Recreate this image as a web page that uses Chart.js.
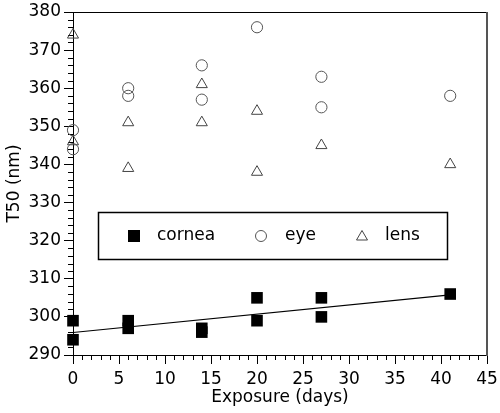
<!DOCTYPE html>
<html>
<head>
<meta charset="utf-8">
<script src="https://cdn.jsdelivr.net/npm/chart.js@4/dist/chart.umd.min.js"></script>
<style>
  html, body { margin: 0; padding: 0; background: #fff; }
  #wrap { width: 500px; height: 413px; }
</style>
</head>
<body>
<div id="wrap"><canvas id="c"></canvas></div>
<script>
// values
var corneaX = [0, 0, 6, 6, 14, 14, 20, 20, 27, 27, 41];
var corneaY = [299, 294, 299, 297, 297, 296, 305, 299, 305, 300, 306];
var eyeX = [0, 0, 6, 6, 14, 14, 20, 27, 27, 41];
var eyeY = [349, 344, 360, 358, 366, 357, 376, 363, 355, 358];
var lensX = [0, 0, 6, 6, 14, 14, 20, 20, 27, 41];
var lensY = [374, 346, 351, 339, 361, 351, 354, 338, 345, 340];
// fitted line through cornea points (end points)
var fitX = [0, 41];
var fitY = [295.9, 305.8];
var legendLabels = ['cornea', 'eye', 'lens'];

var FONT = '"DejaVu Sans", sans-serif';

function pts(xs, ys) {
  return xs.map(function(x, i) { return {x: x, y: ys[i]}; });
}

function seg(ctx, x1, y1, x2, y2) {
  ctx.beginPath(); ctx.moveTo(x1, y1); ctx.lineTo(x2, y2); ctx.stroke();
}

var framePlugin = {
  id: 'frame',
  beforeDatasetsDraw: function(chart) {
    var a = chart.chartArea, ctx = chart.ctx;
    var sx = chart.scales.x, sy = chart.scales.y;
    ctx.save();
    ctx.strokeStyle = '#000';
    ctx.lineWidth = 1;
    seg(ctx, a.left, a.top + 0.5, a.right, a.top + 0.5);
    // minor ticks
    for (var v = 0; v <= 45; v++) {
      if (v % 5 === 0) continue;
      var px = Math.round(sx.getPixelForValue(v)) + 0.5;
      seg(ctx, px, a.bottom, px, a.bottom + 5);
    }
    for (var w = 290; w <= 380; w += 2) {
      if (w % 10 === 0) continue;
      var py = Math.round(sy.getPixelForValue(w)) + 0.5;
      seg(ctx, a.left - 5, py, a.left, py);
    }
    ctx.strokeStyle = '#555';
    ctx.lineWidth = 2;
    seg(ctx, a.right, a.top, a.right, a.bottom + 1);
    ctx.restore();
  },
  afterDraw: function(chart) {
    var ctx = chart.ctx;
    ctx.save();
    // legend box
    ctx.fillStyle = '#fff';
    ctx.fillRect(98, 212, 350, 48);
    ctx.strokeStyle = '#000';
    ctx.lineWidth = 1.5;
    ctx.strokeRect(98.5, 212.5, 349, 47);
    var cy = 236;
    // square
    ctx.fillStyle = '#000';
    ctx.fillRect(128, cy - 6, 12, 12);
    // circle
    ctx.strokeStyle = '#555';
    ctx.lineWidth = 1;
    ctx.beginPath(); ctx.arc(261, cy, 5.5, 0, Math.PI * 2); ctx.stroke();
    // triangle
    ctx.strokeStyle = '#444';
    ctx.beginPath();
    ctx.moveTo(362, cy - 5.5); ctx.lineTo(367.5, cy + 4); ctx.lineTo(356.5, cy + 4);
    ctx.closePath(); ctx.stroke();
    ctx.fillStyle = '#000';
    ctx.font = '17px ' + FONT;
    ctx.textBaseline = 'middle';
    ctx.fillText(legendLabels[0], 157, cy);
    ctx.fillText(legendLabels[1], 285, cy);
    ctx.fillText(legendLabels[2], 385, cy);
    ctx.restore();
  }
};

var ctx = document.getElementById('c');
var chart = new Chart(ctx, {
  type: 'scatter',
  data: {
    datasets: [{
      label: 'fit',
      type: 'line',
      data: pts(fitX, fitY),
      borderColor: '#000',
      borderWidth: 1.2,
      pointRadius: 0,
      fill: false,
      clip: false
    }, {
      label: legendLabels[0],
      data: pts(corneaX, corneaY),
      pointStyle: 'rect',
      pointRadius: 8.2,
      backgroundColor: '#000',
      borderColor: '#000',
      borderWidth: 0,
      clip: false
    }, {
      label: legendLabels[1],
      data: pts(eyeX, eyeY),
      pointStyle: 'circle',
      pointRadius: 5.6,
      backgroundColor: 'rgba(0,0,0,0)',
      borderColor: '#555',
      borderWidth: 1,
      clip: false
    }, {
      label: legendLabels[2],
      data: pts(lensX, lensY),
      pointStyle: 'triangle',
      pointRadius: 6.4,
      backgroundColor: 'rgba(0,0,0,0)',
      borderColor: '#444',
      borderWidth: 1,
      clip: false
    }]
  },
  options: {
    responsive: true,
    maintainAspectRatio: false,
    animation: false,
    events: [],
    layout: { padding: { top: 12, right: 13, left: 0, bottom: 0 } },
    plugins: {
      legend: { display: false },
      tooltip: { enabled: false }
    },
    scales: {
      x: {
        type: 'linear',
        min: 0,
        max: 45,
        afterFit: function(s) { s.height = 58; s.paddingLeft = 0; s.paddingRight = 0; },
        ticks: { stepSize: 5, color: '#000', padding: 5, maxRotation: 0, font: { family: FONT, size: 17 } },
        grid: { drawOnChartArea: false, drawTicks: true, tickLength: 9, color: '#000' },
        border: { color: '#000', width: 1 },
        title: { display: true, text: 'Exposure (days)', color: '#000', font: { family: FONT, size: 17 }, padding: { top: 0, bottom: 5 } }
      },
      y: {
        type: 'linear',
        min: 290,
        max: 380,
        afterFit: function(s) { s.width = 73; s.paddingTop = 0; s.paddingBottom = 0; },
        ticks: { stepSize: 10, color: '#000', padding: 3, font: { family: FONT, size: 17 } },
        grid: { drawOnChartArea: false, drawTicks: true, tickLength: 9, color: '#000' },
        border: { color: '#000', width: 1 },
        title: { display: true, text: 'T50 (nm)', color: '#000', font: { family: FONT, size: 17 }, padding: { top: 4, bottom: 0 } }
      }
    }
  },
  plugins: [framePlugin]
});
</script>
</body>
</html>
